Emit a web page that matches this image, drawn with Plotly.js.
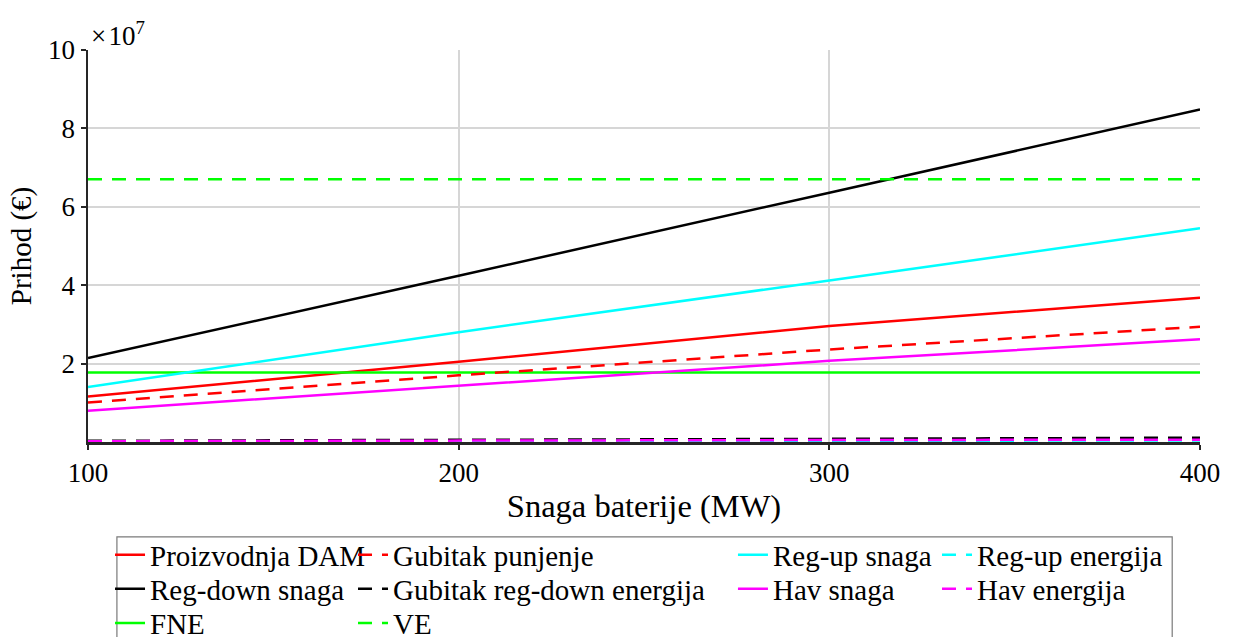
<!DOCTYPE html>
<html><head><meta charset="utf-8">
<script src="https://cdn.plot.ly/plotly-3.0.1.min.js"></script>
<style>body{margin:0;padding:0;background:#fff}#c{width:1234px;height:637px}</style>
</head><body><div id="c"></div>
<script>
// Battery power (MW)
const snaga = [100, 200, 300, 400];
// Revenue values in units of 1e7 EUR
const proizvodnjaDAM = [1.16, 2.05, 2.96, 3.68];
const gubitakPunjenje = [1.01, 1.70, 2.36, 2.94];
const regUpSnaga = [1.40, 2.80, 4.12, 5.45];
const regUpEnergija = [0.01, 0.02, 0.03, 0.04];
const regDownSnaga = [2.14, 4.24, 6.36, 8.48];
const gubitakRegDownEnergija = [0.03, 0.05, 0.08, 0.11];
const havSnaga = [0.80, 1.43, 2.07, 2.62];
const havEnergija = [0.02, 0.04, 0.05, 0.06];
const fne = [1.77, 1.77, 1.77, 1.77];
const ve = [6.70, 6.70, 6.70, 6.70];
const yTicks = [2, 4, 6, 8, 10];
const xTicks = [100, 200, 300, 400];

const W = 2.5;
const DASH = '14px,10px';
const FAM = '"Liberation Serif", "Times New Roman", serif';
const lf = {family: FAM, color: '#000', size: 29};
// legend cell placement (paper coords): columns and rows
const colX = [0.0198, 0.2383, 0.5800, 0.7635];
const rowY = [-0.288, -0.375, -0.462];

const layout = {
  width: 1234, height: 637,
  margin: {l: 88, r: 34, t: 50, b: 195, autoexpand: false},
  paper_bgcolor: '#fff', plot_bgcolor: '#fff',
  font: {family: FAM, color: '#000', size: 27},
  showlegend: true,
  xaxis: {range: [100, 400], tickvals: xTicks, ticktext: xTicks.map(String),
    showgrid: true, gridcolor: '#d6d6d6', gridwidth: 2,
    showline: true, linecolor: '#262626', linewidth: 2.5,
    ticks: 'outside', ticklen: 5, tickwidth: 2, tickcolor: '#262626',
    tickfont: {size: 27, family: FAM, color: '#000'}, zeroline: false, automargin: false,
    title: {text: 'Snaga baterije (MW)', font: {size: 32.5, family: FAM, color: '#000'}, standoff: 8}},
  yaxis: {range: [0, 10], tickvals: yTicks, ticktext: yTicks.map(String),
    showgrid: true, gridcolor: '#d6d6d6', gridwidth: 2,
    showline: true, linecolor: '#262626', linewidth: 2.5,
    ticks: 'outside', ticklen: 5, tickwidth: 2, tickcolor: '#262626',
    tickfont: {size: 27, family: FAM, color: '#000'}, zeroline: false, automargin: false,
    title: {text: 'Prihod (€)', font: {size: 29, family: FAM, color: '#000'}, standoff: 8}},
  annotations: [{xref: 'paper', yref: 'paper', x: 0, y: 1, xanchor: 'left', yanchor: 'bottom',
    xshift: 1, yshift: -3, text: '×\u200a10<sup>7</sup>', showarrow: false,
    font: {size: 27, family: FAM, color: '#000'}}],
  shapes: [{type: 'rect', xref: 'paper', yref: 'paper', x0: 0.026, x1: 0.975, y0: -0.242, y1: -0.6,
    line: {color: '#7a7a7a', width: 1.2}, fillcolor: 'rgba(0,0,0,0)', layer: 'above'}]
};

const data = [];
let li = 0;
function tr(name, y, color, dash, col, row) {
  li += 1;
  const key = li === 1 ? 'legend' : 'legend' + li;
  layout[key] = {x: colX[col], y: rowY[row], xanchor: 'left', yanchor: 'middle',
    orientation: 'v', bgcolor: 'rgba(0,0,0,0)', borderwidth: 0, font: lf, itemwidth: 30};
  data.push({x: snaga, y: y, name: name, type: 'scatter', mode: 'lines',
    line: {color: color, width: W, dash: dash ? DASH : 'solid'}, legend: key});
}
tr('Proizvodnja DAM', proizvodnjaDAM, '#ff0000', false, 0, 0);
tr('Reg-down snaga', regDownSnaga, '#000000', false, 0, 1);
tr('FNE', fne, '#00ff00', false, 0, 2);
tr('Gubitak punjenje', gubitakPunjenje, '#ff0000', true, 1, 0);
tr('Gubitak reg-down energija', gubitakRegDownEnergija, '#000000', true, 1, 1);
tr('VE', ve, '#00ff00', true, 1, 2);
tr('Reg-up snaga', regUpSnaga, '#00ffff', false, 2, 0);
tr('Hav snaga', havSnaga, '#ff00ff', false, 2, 1);
tr('Reg-up energija', regUpEnergija, '#00ffff', true, 3, 0);
tr('Hav energija', havEnergija, '#ff00ff', true, 3, 1);

Plotly.newPlot('c', data, layout, {displayModeBar: false, staticPlot: true});
</script></body></html>
